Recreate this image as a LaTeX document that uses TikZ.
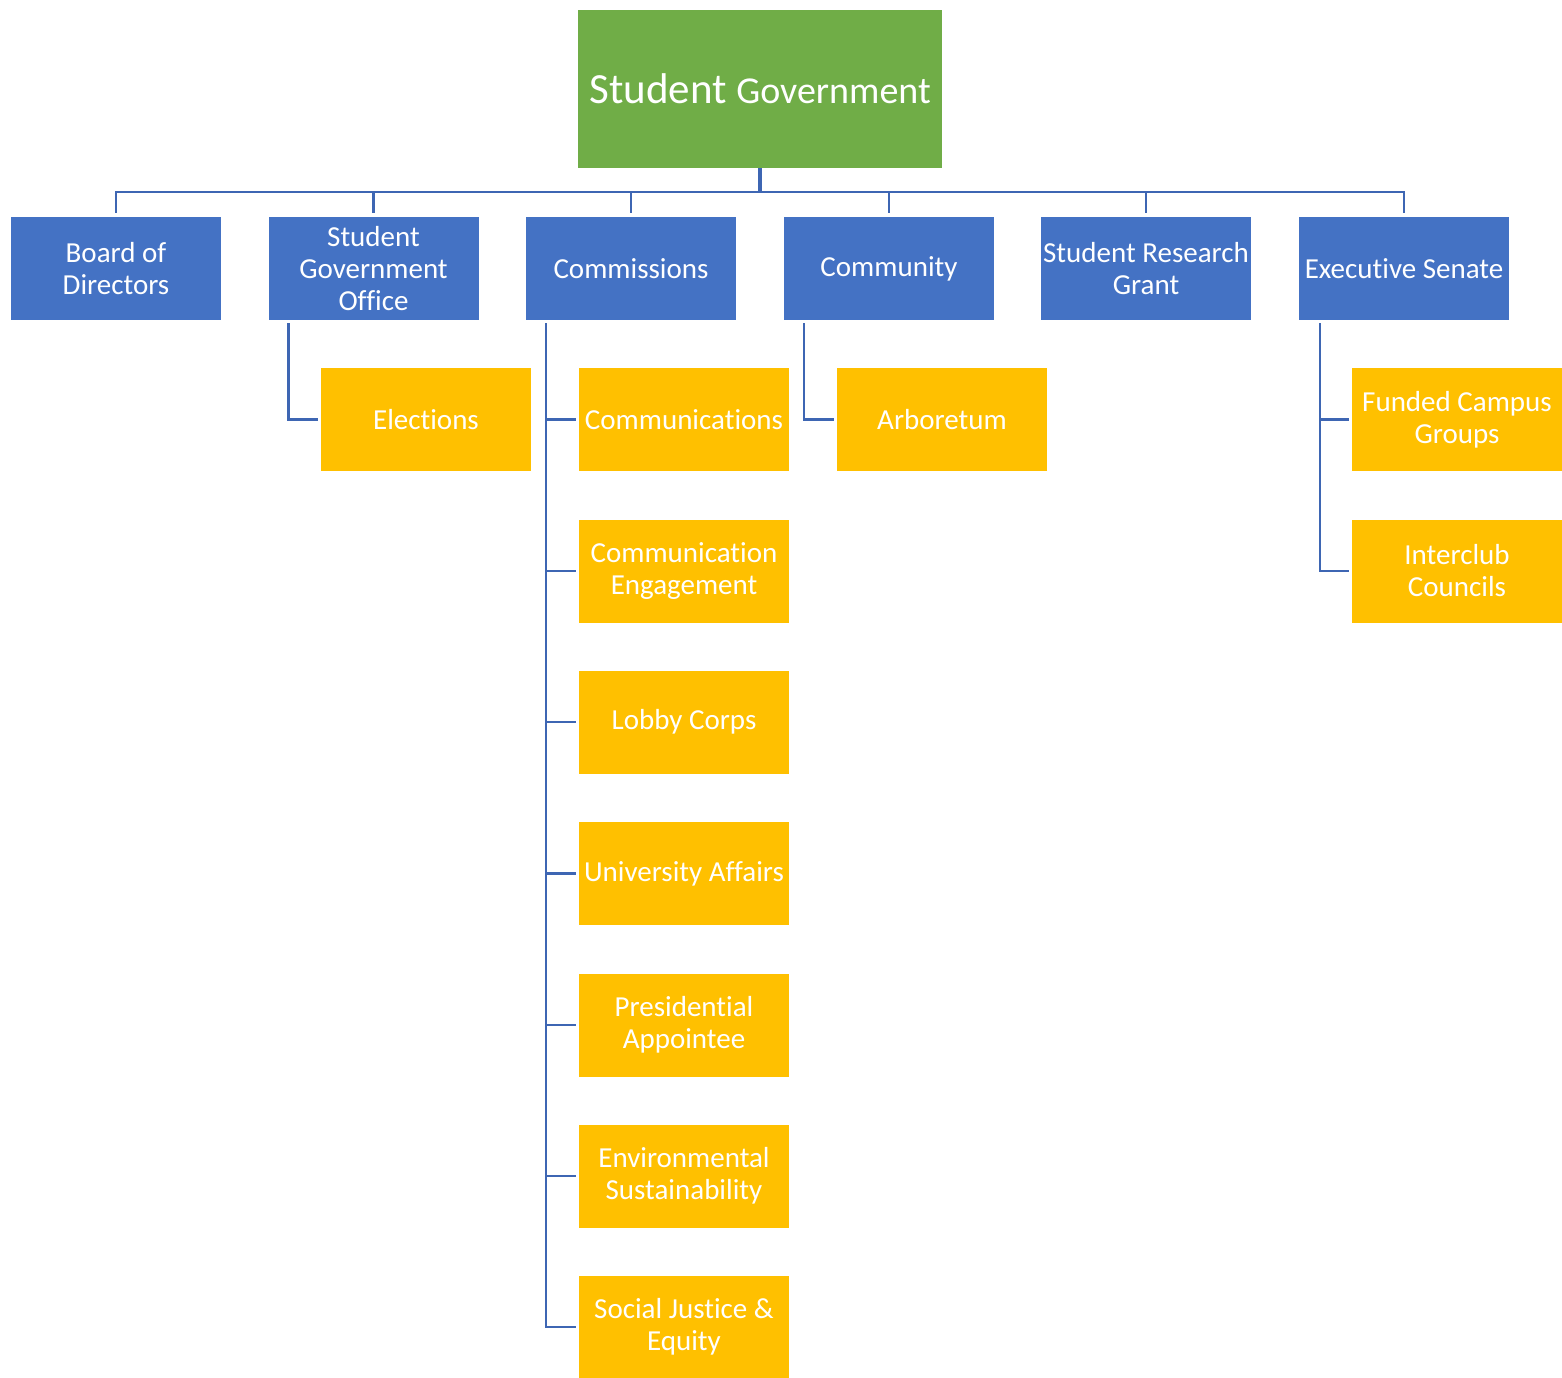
\documentclass[tikz,border=0pt]{standalone}
\usepackage{fontspec}
\setmainfont[Ligatures=NoCommon]{Carlito}
\definecolor{sgreen}{HTML}{70AD47}
\definecolor{sblue}{HTML}{4472C4}
\definecolor{sgold}{HTML}{FFC000}
\definecolor{sline}{HTML}{3E66B3}
\begin{document}
\begin{tikzpicture}[x=1pt,y=-1pt,
  box/.style={minimum width=210pt, minimum height=103pt, inner sep=0pt, text=white, align=center, font=\fontsize{29}{32}\selectfont},
  bluebox/.style={box, fill=sblue},
  goldbox/.style={box, fill=sgold},
  conn/.style={draw=sline, line width=2.5pt, shorten <=3pt, shorten >=3pt}]
\useasboundingbox (0,0) rectangle (1562,1377);
\node[fill=sgreen, minimum width=364pt, minimum height=158pt, inner sep=0pt, text=white] (root) at (760,89)
  {{\fontsize{43}{46}\selectfont Student }{\fontsize{38}{42}\selectfont Government}};
\node[bluebox] (bod) at (116,268.5) {Board of\\Directors};
\node[bluebox] (sgo) at (373.5,268.5) {Student\\Government\\Office};
\node[bluebox] (com) at (631,268.5) {Commissions};
\node[bluebox] (cty) at (889,268.5) {Community};
\node[bluebox] (srg) at (1146,268.5) {Student Research\\Grant};
\node[bluebox] (exe) at (1404,268.5) {Executive Senate};
\node[goldbox] (ele) at (426,419.5) {Elections};
\node[goldbox] (c1) at (684,419.5) {Communications};
\node[goldbox] (c2) at (684,571) {Communication\\Engagement};
\node[goldbox] (c3) at (684,722) {Lobby Corps};
\node[goldbox] (c4) at (684,873.5) {University Affairs};
\node[goldbox] (c5) at (684,1025) {Presidential\\Appointee};
\node[goldbox] (c6) at (684,1176) {Environmental\\Sustainability};
\node[goldbox] (c7) at (684,1327) {Social Justice \&\\Equity};
\node[goldbox] (arb) at (942,419.5) {Arboretum};
\node[goldbox] (e1) at (1457,419.5) {Funded Campus\\Groups};
\node[goldbox] (e2) at (1457,571) {Interclub\\Councils};
\coordinate (bar) at (760,192);
\draw[draw=sline, line width=4pt] (root.south) -- (bar);
\foreach \n in {bod,sgo,com,cty,srg,exe}
  \draw[conn, shorten <=0pt, shorten >=4pt] (bar) -| (\n.north);
\draw[conn] ([xshift=20pt]sgo.south west) |- (ele.west);
\foreach \n in {c1,c2,c3,c4,c5,c6,c7}
  \draw[conn] ([xshift=20pt]com.south west) |- (\n.west);
\draw[conn] ([xshift=20pt]cty.south west) |- (arb.west);
\foreach \n in {e1,e2}
  \draw[conn] ([xshift=21pt]exe.south west) |- (\n.west);
\end{tikzpicture}
\end{document}
